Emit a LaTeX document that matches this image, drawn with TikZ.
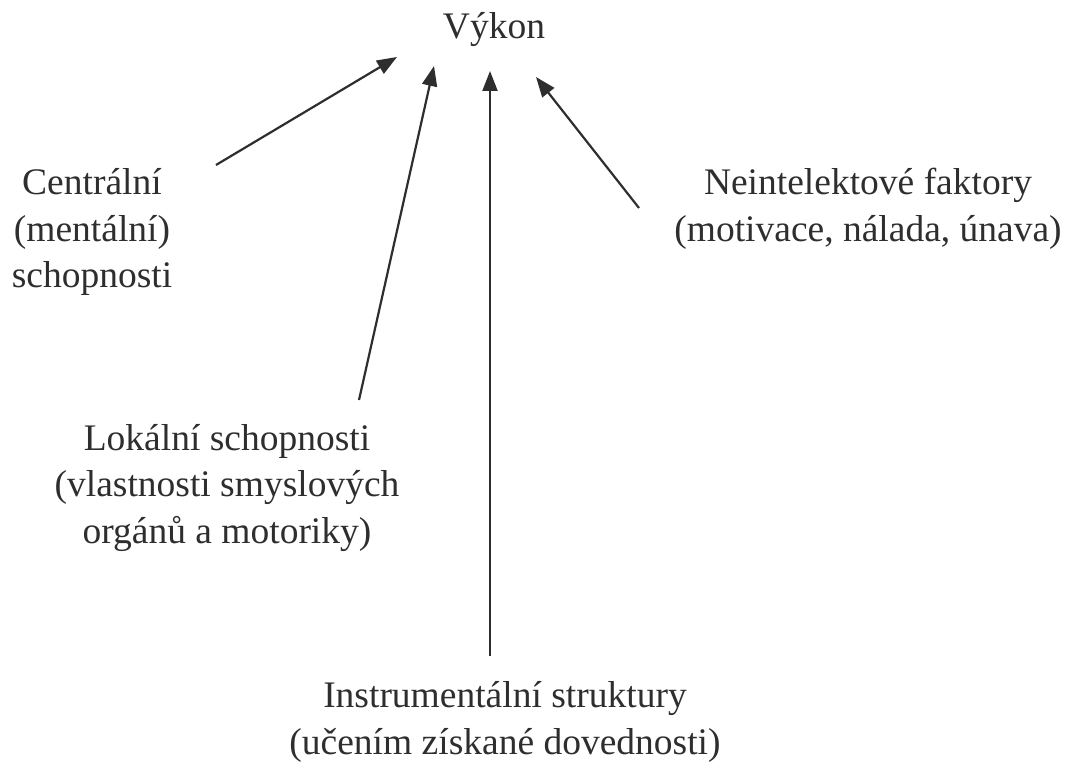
\documentclass[tikz,border=0pt]{standalone}
\usepackage{fontspec}
\setmainfont{Liberation Serif}
\usetikzlibrary{arrows.meta}
\definecolor{ink}{HTML}{2E2E2E}
\tikzset{
  lbl/.style={align=center, text=ink, font=\fontsize{37.5}{46.5}\selectfont, inner sep=0pt},
  arr/.style={draw=ink, line width=2.2pt, -{Triangle[length=20pt,width=15pt]}}
}
\begin{document}
\begin{tikzpicture}[x=1pt,y=-1pt]
\useasboundingbox (0,0) rectangle (1073,762);
\node[lbl] (vykon) at (494,30) {Výkon};
\node[lbl] (central) at (92,232) {Centrální\\(mentální)\\schopnosti};
\node[lbl] (lokal) at (227,488) {Lokální schopnosti\\(vlastnosti smyslových\\orgánů a motoriky)};
\node[lbl] (instr) at (505,722) {Instrumentální struktury\\(učením získané dovednosti)};
\node[lbl] (neint) at (868,209) {Neintelektové faktory\\(motivace, nálada, únava)};
\coordinate (s1) at (216,165); \coordinate (t1) at (397,57);
\coordinate (s2) at (359,400); \coordinate (t2) at (434,66);
\coordinate (s3) at (490,656); \coordinate (t3) at (490,71);
\coordinate (s4) at (639,208); \coordinate (t4) at (536,77);
\draw[arr] (s1) -- (t1);
\draw[arr] (s2) -- (t2);
\draw[arr] (s3) -- (t3);
\draw[arr] (s4) -- (t4);
\end{tikzpicture}
\end{document}
